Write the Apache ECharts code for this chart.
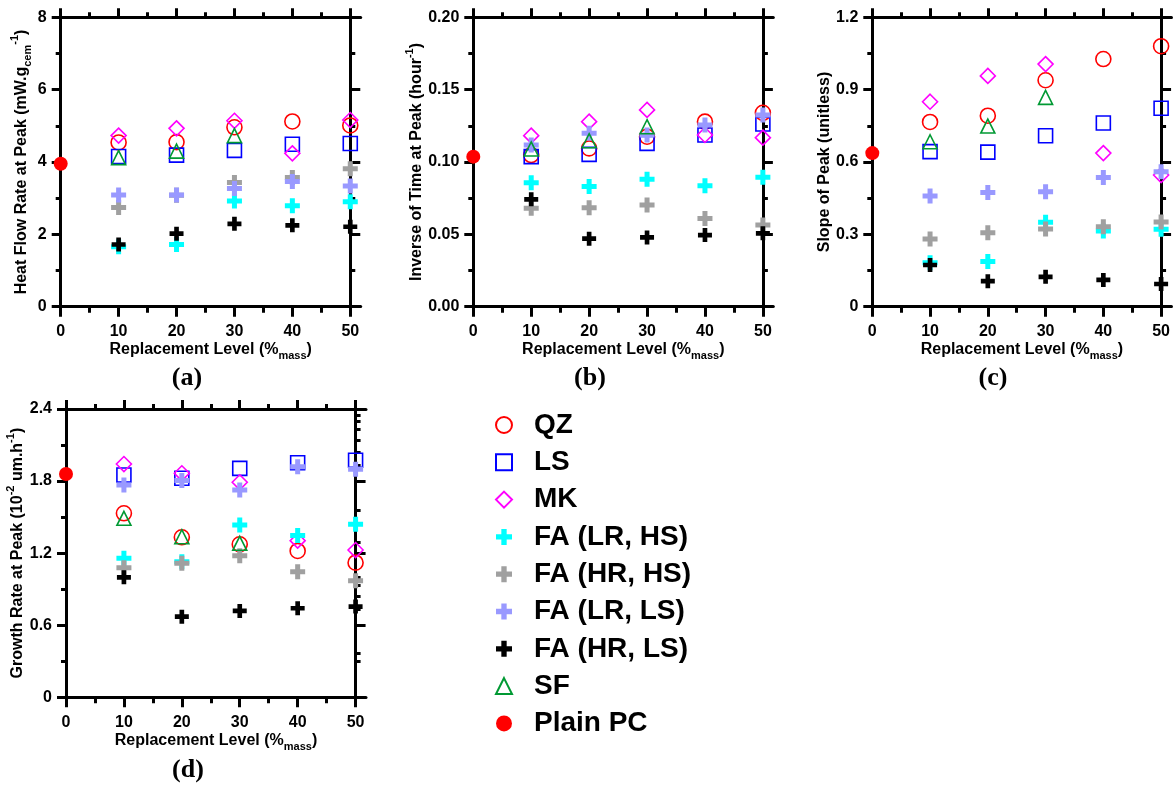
<!DOCTYPE html>
<html><head><meta charset="utf-8">
<script src="https://cdn.jsdelivr.net/npm/echarts@6/dist/echarts.min.js"></script>
<style>html,body{margin:0;padding:0;background:#fff}#c{width:1173px;height:787px}</style>
</head><body><div id="c"></div>
<script>
// ---------- data ----------
const levels = [10, 20, 30, 40, 50];
const sfLevels = [10, 20, 30];
const plainLevel = [0];
const seriesNames = ['QZ', 'LS', 'MK', 'FA (LR, HS)', 'FA (HR, HS)', 'FA (LR, LS)', 'FA (HR, LS)', 'SF', 'Plain PC'];
const xMajorTicks = [0, 10, 20, 30, 40, 50];
const xMinorTicks = [5, 15, 25, 35, 45];

// (a) heat flow rate at peak
const heatQZ     = [4.54, 4.55, 4.96, 5.12, 5.01];
const heatLS     = [4.15, 4.19, 4.32, 4.49, 4.51];
const heatMK     = [4.73, 4.93, 5.14, 4.24, 5.16];
const heatFaLRHS = [1.66, 1.72, 2.92, 2.79, 2.90];
const heatFaHRHS = [2.74, 3.08, 3.43, 3.57, 3.81];
const heatFaLRLS = [3.09, 3.09, 3.27, 3.46, 3.34];
const heatFaHRLS = [1.72, 2.02, 2.29, 2.25, 2.21];
const heatSF     = [4.12, 4.30, 4.73];
const heatPlain  = [3.95];
const heatTicks  = [0, 2, 4, 6, 8];
const heatMinor  = [1, 3, 5, 7];

// (b) inverse of time at peak
const invQZ     = [0.1048, 0.1094, 0.1175, 0.1279, 0.1340];
const invLS     = [0.1037, 0.1053, 0.1129, 0.1187, 0.1263];
const invMK     = [0.1182, 0.1279, 0.1360, 0.1187, 0.1168];
const invFaLRHS = [0.0857, 0.0830, 0.0880, 0.0836, 0.0894];
const invFaHRHS = [0.0680, 0.0684, 0.0703, 0.0610, 0.0565];
const invFaLRLS = [0.1118, 0.1198, 0.1187, 0.1256, 0.1325];
const invFaHRLS = [0.0742, 0.0470, 0.0479, 0.0495, 0.0507];
const invSF     = [0.1090, 0.1147, 0.1244];
const invPlain  = [0.1037];
const invTicks  = [0, 0.05, 0.10, 0.15, 0.20];
const invMinor  = [0.025, 0.075, 0.125, 0.175];

// (c) slope of peak
const slopeQZ     = [0.766, 0.792, 0.939, 1.027, 1.080];
const slopeLS     = [0.643, 0.641, 0.709, 0.762, 0.823];
const slopeMK     = [0.850, 0.957, 1.006, 0.637, 0.546];
const slopeFaLRHS = [0.182, 0.187, 0.350, 0.314, 0.321];
const slopeFaHRHS = [0.281, 0.307, 0.322, 0.332, 0.351];
const slopeFaLRLS = [0.459, 0.474, 0.477, 0.536, 0.560];
const slopeFaHRLS = [0.173, 0.106, 0.124, 0.111, 0.094];
const slopeSF     = [0.684, 0.749, 0.868];
const slopePlain  = [0.637];
const slopeTicks  = [0, 0.3, 0.6, 0.9, 1.2];
const slopeMinor  = [0.15, 0.45, 0.75, 1.05];

// (d) growth rate at peak
const growQZ     = [1.532, 1.332, 1.274, 1.218, 1.121];
const growLS     = [1.851, 1.823, 1.906, 1.953, 1.973];
const growMK     = [1.942, 1.865, 1.790, 1.304, 1.226];
const growFaLRHS = [1.157, 1.129, 1.434, 1.346, 1.440];
const growFaHRHS = [1.079, 1.115, 1.179, 1.046, 0.971];
const growFaLRLS = [1.767, 1.804, 1.726, 1.920, 1.898];
const growFaHRLS = [0.999, 0.671, 0.719, 0.741, 0.755];
const growSF     = [1.490, 1.337, 1.282];
const growPlain  = [1.859];
const growTicks  = [0, 0.6, 1.2, 1.8, 2.4];
const growMinor  = [0.3, 0.9, 1.5, 2.1];
const growRightMinor = [0.3, 0.37, 0.73, 0.84, 0.93, 1.0, 1.29, 1.56, 1.93, 2.04, 2.14, 2.23, 2.3, 2.35];

// ---------- styling ----------
const FONT = "'Liberation Sans', Arial, sans-serif";
const XMAX = 51.8;
const GW = 300;
const PLUS = 'path://M5,0L10,0L10,5L15,5L15,10L10,10L10,15L5,15L5,10L0,10L0,5L5,5Z';
const styles = {
  'QZ':          {symbol: 'circle',   size: 15, fill: 'transparent', stroke: '#ff0000'},
  'LS':          {symbol: 'rect',     size: 14, fill: 'transparent', stroke: '#0000ff'},
  'MK':          {symbol: 'diamond',  size: 15, fill: 'transparent', stroke: '#ff00ff'},
  'FA (LR, HS)': {symbol: PLUS,       size: 15, fill: '#00ffff'},
  'FA (HR, HS)': {symbol: PLUS,       size: 15, fill: '#a0a0a0'},
  'FA (LR, LS)': {symbol: PLUS,       size: 15, fill: '#9999ff'},
  'FA (HR, LS)': {symbol: PLUS,       size: 14, fill: '#000000'},
  'SF':          {symbol: 'triangle', size: 14, fill: 'transparent', stroke: '#009933'},
  'Plain PC':    {symbol: 'circle',   size: 14, fill: '#ff0000'}
};

const rich = {
  t:   {fontSize: 16, fontWeight: 'bold', fontFamily: FONT, color: '#000'},
  sub: {fontSize: 11, fontWeight: 'bold', fontFamily: FONT, color: '#000', verticalAlign: 'bottom', padding: [0, 0, -4, 0]},
  sup: {fontSize: 11, fontWeight: 'bold', fontFamily: FONT, color: '#000', verticalAlign: 'top', padding: [-4, 0, 0, 0]}
};
const xName = '{t|Replacement Level (%}{sub|mass}{t|)}';

const panels = [
  {left: 60.7, top: 17.3, h: 289.4, ymax: 8, ticks: heatTicks, minor: heatMinor, rminor: heatMinor,
   fmt: v => String(v), name: '{t|Heat Flow Rate at Peak (mW.g}{sub|cem}{sup|-1}{t|)}', gap: 29,
   data: [heatQZ, heatLS, heatMK, heatFaLRHS, heatFaHRHS, heatFaLRLS, heatFaHRLS, heatSF, heatPlain]},
  {left: 473.3, top: 17.3, h: 289.4, ymax: 0.2, ticks: invTicks, minor: invMinor, rminor: invMinor,
   fmt: v => v.toFixed(2), name: '{t|Inverse of Time at Peak (hour}{sup|-1}{t|)}', gap: 46,
   data: [invQZ, invLS, invMK, invFaLRHS, invFaHRHS, invFaLRLS, invFaHRLS, invSF, invPlain]},
  {left: 872.3, top: 17.3, h: 289.4, ymax: 1.2, ticks: slopeTicks, minor: slopeMinor, rminor: slopeMinor,
   fmt: v => (v === 0 ? '0' : v.toFixed(1)), name: '{t|Slope of Peak (unitless)}', gap: 38,
   data: [slopeQZ, slopeLS, slopeMK, slopeFaLRHS, slopeFaHRHS, slopeFaLRLS, slopeFaHRLS, slopeSF, slopePlain]},
  {left: 66, top: 409, h: 288.3, ymax: 2.4, ticks: growTicks, minor: growMinor, rminor: growRightMinor,
   fmt: v => (v === 0 ? '0' : v.toFixed(1)), name: '{t|Growth Rate at Peak (10}{sup|-2}{t| um.h}{sup|-1}{t|)}', gap: 39,
   data: [growQZ, growLS, growMK, growFaLRHS, growFaHRHS, growFaLRLS, growFaHRLS, growSF, growPlain]}
];

const grid = [], xAxis = [], yAxis = [], series = [];
const line = {color: '#000', width: 3};
const noLine = {show: false, onZero: false};
const off = {show: false};

panels.forEach((p, gi) => {
  grid.push({left: p.left, top: p.top, width: GW, height: p.h});
  const xb = {gridIndex: gi, type: 'value', min: 0, max: XMAX, splitLine: off, axisLine: noLine, axisLabel: off, axisTick: off};
  const xi = xAxis.length;
  xAxis.push(Object.assign({}, xb, {
    position: 'bottom', axisLine: {show: true, onZero: false, lineStyle: line},
    axisTick: {show: true, customValues: xMajorTicks, length: 10, lineStyle: line},
    axisLabel: {show: true, customValues: xMajorTicks, margin: 17, color: '#000', fontSize: 16, fontWeight: 'bold', fontFamily: FONT},
    name: xName, nameLocation: 'middle', nameGap: 35, nameTextStyle: {rich: rich}
  }));
  xAxis.push(Object.assign({}, xb, {position: 'bottom', axisTick: {show: true, customValues: xMinorTicks, length: 6, lineStyle: line}}));
  xAxis.push(Object.assign({}, xb, {position: 'top', axisLine: {show: true, onZero: false, lineStyle: line},
    axisTick: {show: true, customValues: xMajorTicks, length: 9, lineStyle: line}}));
  xAxis.push(Object.assign({}, xb, {position: 'top', axisTick: {show: true, customValues: xMinorTicks, length: 5, lineStyle: line}}));

  const yb = {gridIndex: gi, type: 'value', min: 0, max: p.ymax, splitLine: off, axisLine: noLine, axisLabel: off, axisTick: off};
  const yi = yAxis.length;
  yAxis.push(Object.assign({}, yb, {
    position: 'left', axisLine: {show: true, onZero: false, lineStyle: line},
    axisTick: {show: true, customValues: p.ticks, length: 9, lineStyle: line},
    axisLabel: {show: true, customValues: p.ticks, formatter: p.fmt, margin: 14, color: '#000', fontSize: 16, fontWeight: 'bold', fontFamily: FONT},
    name: p.name, nameLocation: 'middle', nameGap: p.gap, nameTextStyle: {rich: rich}
  }));
  yAxis.push(Object.assign({}, yb, {position: 'left', axisTick: {show: true, customValues: p.minor, length: 5, lineStyle: line}}));
  const rOff = -(XMAX - 50) / XMAX * GW;
  yAxis.push(Object.assign({}, yb, {position: 'right', offset: rOff, axisLine: {show: true, onZero: false, lineStyle: line},
    axisTick: {show: true, customValues: p.ticks, length: 10, lineStyle: line}}));
  yAxis.push(Object.assign({}, yb, {position: 'right', offset: rOff, axisTick: {show: true, customValues: p.rminor, length: 5, lineStyle: line}}));

  seriesNames.forEach((nm, si) => {
    const st = styles[nm];
    const xs = nm === 'SF' ? sfLevels : (nm === 'Plain PC' ? plainLevel : levels);
    const vals = p.data[si];
    const itemStyle = st.stroke
      ? {color: st.fill, borderColor: st.stroke, borderWidth: 1.6, opacity: 1}
      : {color: st.fill, opacity: 1};
    series.push({
      name: nm, type: 'scatter', xAxisIndex: xi, yAxisIndex: yi, clip: false,
      symbol: st.symbol, symbolSize: st.size, itemStyle: itemStyle,
      emphasis: {disabled: true}, silent: true, animation: false,
      data: xs.map((x, k) => [x, vals[k]])
    });
  });
});

const panelLabels = [
  {text: '(a)', x: 187, y: 378}, {text: '(b)', x: 590, y: 378},
  {text: '(c)', x: 993, y: 378}, {text: '(d)', x: 188, y: 770}
];

const chart = echarts.init(document.getElementById('c'), null, {renderer: 'canvas'});
chart.setOption({
  backgroundColor: '#fff',
  animation: false,
  grid: grid, xAxis: xAxis, yAxis: yAxis, series: series,
  legend: {
    data: seriesNames, orient: 'vertical', left: 490, top: 405,
    itemWidth: 16, itemHeight: 16, itemGap: 7.3, selectedMode: false,
    itemStyle: {opacity: 1},
    textStyle: {fontSize: 28, fontWeight: 'bold', fontFamily: FONT, color: '#000', lineHeight: 30, padding: [0, 0, 0, 17]}
  },
  graphic: panelLabels.map(l => ({
    type: 'text', x: l.x, y: l.y,
    style: {text: l.text, fill: '#000', font: "bold 26px 'Liberation Serif', 'Times New Roman', serif", textAlign: 'center', textVerticalAlign: 'middle'}
  }))
});
</script></body></html>
